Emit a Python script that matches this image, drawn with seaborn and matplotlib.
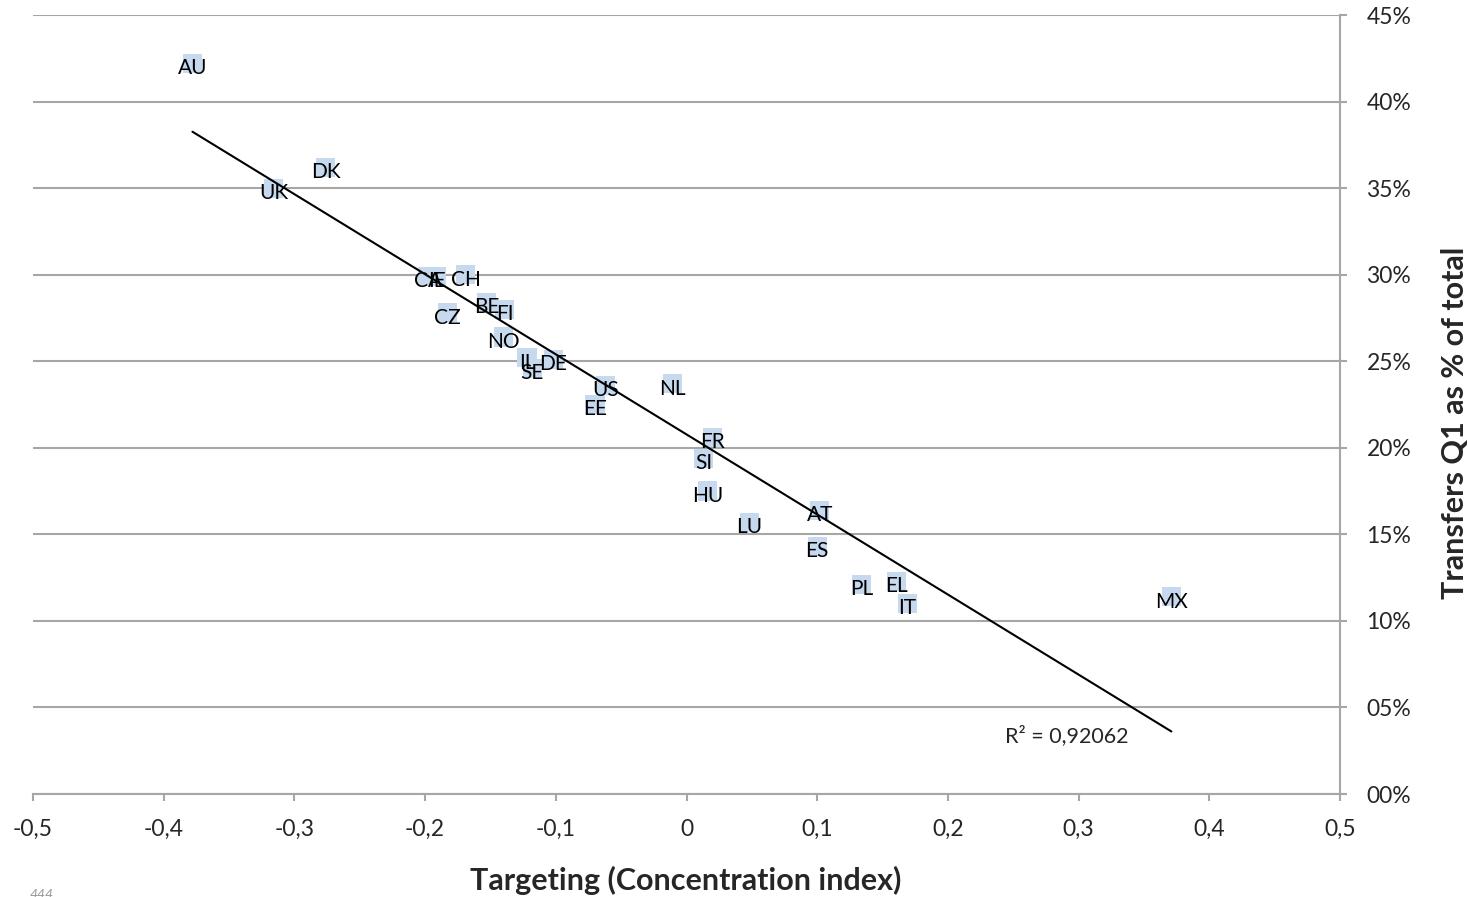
import matplotlib
matplotlib.use("Agg")
import matplotlib.pyplot as plt
import seaborn as sns
import pandas as pd
from matplotlib.ticker import FixedLocator, FuncFormatter

countries = ['AU', 'DK', 'UK', 'CA', 'IE', 'CH', 'CZ', 'BE', 'FI', 'NO',
             'IL', 'DE', 'SE', 'US', 'EE', 'NL', 'FR', 'SI', 'HU', 'LU',
             'AT', 'ES', 'PL', 'EL', 'IT', 'MX']
targeting = [-0.378, -0.276, -0.316, -0.198, -0.191, -0.169, -0.183, -0.153, -0.139, -0.140,
             -0.122, -0.102, -0.118, -0.062, -0.070, -0.011, 0.020, 0.013, 0.016, 0.048,
             0.102, 0.100, 0.134, 0.161, 0.169, 0.371]
transfers_q1 = [42.2, 36.2, 35.0, 29.9, 29.9, 30.0, 27.8, 28.4, 28.0, 26.4,
                25.2, 25.1, 24.6, 23.6, 22.5, 23.7, 20.6, 19.4, 17.5, 15.7,
                16.4, 14.3, 12.1, 12.3, 11.0, 11.4]
r2_label = "R² = 0,92062"

df = pd.DataFrame({'country': countries, 'targeting': targeting, 'q1': transfers_q1})

sns.set_style("white")
plt.rcParams['font.family'] = ['Lato', 'DejaVu Sans']

grid_col = '#a6a6a6'

fig = plt.figure(figsize=(14.68, 8.97), dpi=100)
ax = fig.add_axes([33 / 1468, 1 - 794 / 897, (1340 - 33) / 1468, (794 - 15) / 897])

sns.scatterplot(data=df, x='targeting', y='q1', marker='s', s=190,
                color='#c6d9ef', edgecolor='none', ax=ax, zorder=2)
sns.regplot(data=df, x='targeting', y='q1', scatter=False, ci=None, ax=ax,
            line_kws={'color': 'black', 'lw': 1.5, 'zorder': 4})

for name, xv, yv in zip(countries, targeting, transfers_q1):
    ax.annotate(name, (xv, yv), xytext=(0, -3.5), textcoords='offset points',
                ha='center', va='center', fontsize=15, color='black', zorder=5)

ax.text(0.2437, 3.35, r2_label, ha='left', va='center', fontsize=15.5)

ax.set_xlim(-0.5, 0.5)
ax.set_ylim(0, 45)
ax.xaxis.set_major_locator(FixedLocator([-0.5 + 0.1 * i for i in range(11)]))
ax.yaxis.set_major_locator(FixedLocator(list(range(0, 50, 5))))


def fmt_x(v, pos):
    v = round(v, 1)
    if v == 0:
        return '0'
    return f"{v:.1f}".replace('.', ',')


ax.xaxis.set_major_formatter(FuncFormatter(fmt_x))
ax.yaxis.set_major_formatter(FuncFormatter(lambda v, pos: f"{int(round(v)):02d}%"))

ax.yaxis.tick_right()
ax.yaxis.set_label_position('right')
ax.grid(axis='y', color=grid_col, lw=1.5)
ax.set_axisbelow(True)
for side in ['top', 'left']:
    ax.spines[side].set_visible(False)
for side in ['bottom', 'right']:
    ax.spines[side].set_color(grid_col)
    ax.spines[side].set_linewidth(1.5)

ax.tick_params(axis='x', direction='out', length=5, width=1.5, color=grid_col,
               pad=13, labelsize=16.5, bottom=True)
ax.tick_params(axis='y', direction='out', length=5, width=1.5, color=grid_col,
               pad=14, labelsize=16.5, right=True, left=False)
for lab in ax.get_yticklabels():
    lab.set_horizontalalignment('left')

ax.set_xlabel('')
ax.set_ylabel('')
fig.text(686 / 1468, 1 - 880 / 897, 'Targeting (Concentration index)', ha='center', va='center',
         fontsize=22, fontweight='bold')
fig.text(1455 / 1468, 1 - 423 / 897, 'Transfers Q1 as % of total', ha='center', va='center',
         rotation=90, fontsize=22, fontweight='bold')
fig.text(30 / 1468, 1 - 889 / 897, '444', ha='left', va='top', fontsize=10,
         style='italic', color='#999999')

fig.savefig('out.png', dpi=100)
